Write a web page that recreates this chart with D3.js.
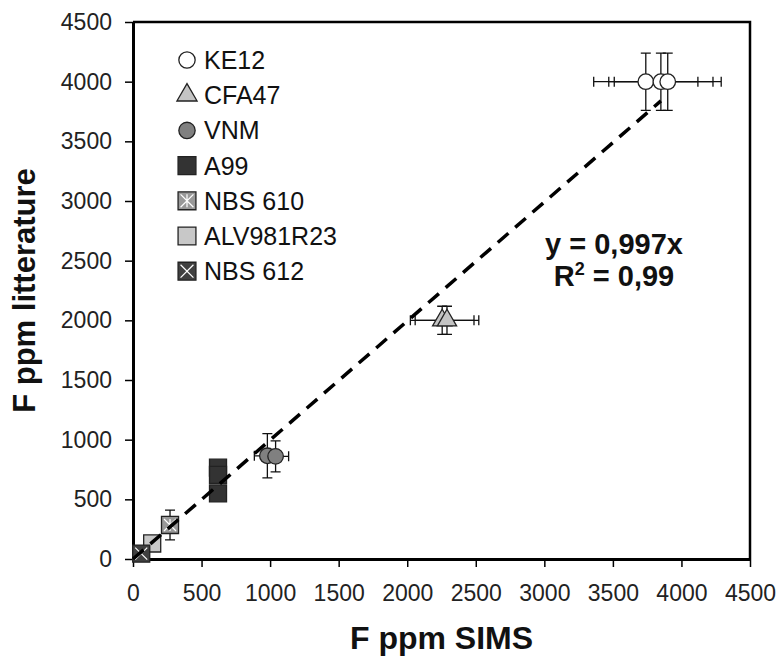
<!DOCTYPE html>
<html>
<head>
<meta charset="utf-8">
<script src="https://cdn.jsdelivr.net/npm/d3@7"></script>
<style>
  body { margin: 0; background: #fff; }
  text { font-family: "Liberation Sans", Arial, sans-serif; }
</style>
</head>
<body>
<script>
// series: x = F ppm SIMS, y = F ppm litterature
var ke12X = [3740, 3850, 3900];
var ke12Y = [4000, 4000, 4000];
var ke12Ex = [380, 380, 390];
var ke12Ey = [240, 240, 240];

var cfa47X = [2255, 2290];
var cfa47Y = [2000, 2000];
var cfa47Ex = [232, 232];
var cfa47Ey = [118, 118];

var vnmX = [980, 1040];
var vnmY = [865, 860];
var vnmEx = [95, 95];
var vnmEy = [185, 130];

var a99X = [620, 620, 620];
var a99Y = [765, 705, 550];

var nbs610X = [270];
var nbs610Y = [285];
var nbs610Ey = [125];

var alvX = [140];
var alvY = [130];

var nbs612X = [60];
var nbs612Y = [45];

var fitSlope = 0.997;
var fitEnd = 3850;

var ticks = [0, 500, 1000, 1500, 2000, 2500, 3000, 3500, 4000, 4500];
var legendNames = ["KE12", "CFA47", "VNM", "A99", "NBS 610", "ALV981R23", "NBS 612"];

var w = 777;
var h = 657;

var svg = d3.select("body")
    .append("svg")
    .attr("width", w)
    .attr("height", h);

var x = d3.scaleLinear().domain([0, 4500]).range([133, 750]);
var y = d3.scaleLinear().domain([0, 4500]).range([559, 22]);

// frame top / right
svg.append("path")
    .attr("d", "M" + x(0) + "," + y(4500) + "H" + x(4500) + "V" + y(0))
    .attr("fill", "none")
    .attr("stroke", "#000")
    .attr("stroke-width", 2.5);

var fmt = d3.format("d");
var xAxis = svg.append("g")
    .attr("transform", "translate(0," + y(0) + ")")
    .call(d3.axisBottom(x).tickValues(ticks).tickFormat(fmt).tickSize(8).tickSizeOuter(0).tickPadding(18));
var yAxis = svg.append("g")
    .attr("transform", "translate(" + x(0) + ",0)")
    .call(d3.axisLeft(y).tickValues(ticks).tickFormat(fmt).tickSize(8).tickSizeOuter(0).tickPadding(13));

[xAxis, yAxis].forEach(function(g) {
    g.select(".domain").attr("stroke-width", 3);
    g.selectAll(".tick line").attr("stroke-width", 1.5);
    g.selectAll(".tick text")
        .attr("fill", "#222")
        .style("font-family", "'Liberation Sans', Arial, sans-serif")
        .style("font-size", "23px");
});

svg.append("text")
    .attr("x", (x(0) + x(4500)) / 2)
    .attr("y", 649)
    .attr("text-anchor", "middle")
    .style("font-size", "32px")
    .style("font-weight", "bold")
    .attr("fill", "#111")
    .text("F ppm SIMS");

svg.append("text")
    .attr("transform", "translate(35," + (y(0) + y(4500)) / 2 + ") rotate(-90)")
    .attr("text-anchor", "middle")
    .style("font-size", "31px")
    .style("font-weight", "bold")
    .attr("fill", "#111")
    .text("F ppm litterature");

function zip(xs, ys, exs, eys) {
    return xs.map(function(v, i) {
        return { x: v, y: ys[i], ex: exs ? exs[i] : 0, ey: eys ? eys[i] : 0 };
    });
}

var series = [
    { name: "KE12", shape: d3.symbolCircle, size: 190, fill: "#fff", pts: zip(ke12X, ke12Y, ke12Ex, ke12Ey) },
    { name: "CFA47", shape: d3.symbolTriangle, size: 160, fill: "#c4c4c4", pts: zip(cfa47X, cfa47Y, cfa47Ex, cfa47Ey) },
    { name: "VNM", shape: d3.symbolCircle, size: 190, fill: "#808080", pts: zip(vnmX, vnmY, vnmEx, vnmEy) },
    { name: "A99", shape: d3.symbolSquare, size: 290, fill: "#333", pts: zip(a99X, a99Y) },
    { name: "NBS 610", shape: d3.symbolSquare, size: 290, fill: "#999", mark: "star", pts: zip(nbs610X, nbs610Y, null, nbs610Ey) },
    { name: "ALV981R23", shape: d3.symbolSquare, size: 290, fill: "#c8c8c8", pts: zip(alvX, alvY) },
    { name: "NBS 612", shape: d3.symbolSquare, size: 290, fill: "#404040", mark: "cross", pts: zip(nbs612X, nbs612Y) }
];

// error bars
var cap = 5;
var eb = svg.append("g").attr("stroke", "#111").attr("stroke-width", 1.3).attr("fill", "none");
series.forEach(function(s) {
    s.pts.forEach(function(p) {
        if (p.ey) {
            var cx = x(p.x), y0 = y(p.y - p.ey), y1 = y(p.y + p.ey);
            eb.append("path").attr("d",
                "M" + cx + "," + y0 + "V" + y1 +
                "M" + (cx - cap) + "," + y0 + "h" + 2 * cap +
                "M" + (cx - cap) + "," + y1 + "h" + 2 * cap);
        }
        if (p.ex) {
            var cy = y(p.y), x0 = x(p.x - p.ex), x1 = x(p.x + p.ex);
            eb.append("path").attr("d",
                "M" + x0 + "," + cy + "H" + x1 +
                "M" + x0 + "," + (cy - cap) + "v" + 2 * cap +
                "M" + x1 + "," + (cy - cap) + "v" + 2 * cap);
        }
    });
});

function drawMarker(g, s, scale) {
    g.append("path")
        .attr("d", d3.symbol().type(s.shape).size(s.size * scale)())
        .attr("fill", s.fill)
        .attr("stroke", "#222")
        .attr("stroke-width", 1.3);
    var r = Math.sqrt(s.size * scale) / 2 - 2.5;
    if (s.mark) {
        var d = "M" + (-r) + "," + (-r) + "L" + r + "," + r + "M" + r + "," + (-r) + "L" + (-r) + "," + r;
        if (s.mark == "star") d += "M0," + (-r) + "V" + r;
        g.append("path").attr("d", d).attr("stroke", "#fff").attr("stroke-width", 1.2);
    }
}

// markers
series.forEach(function(s) {
    s.pts.forEach(function(p) {
        var g = svg.append("g").attr("transform", "translate(" + x(p.x) + "," + y(p.y) + ")");
        drawMarker(g, s, 1);
    });
});

// fit line
svg.append("line")
    .attr("x1", x(0)).attr("y1", y(0))
    .attr("x2", x(fitEnd)).attr("y2", y(fitEnd * fitSlope))
    .attr("stroke", "#000")
    .attr("stroke-width", 3.5)
    .attr("stroke-dasharray", "14,9");

// equation
svg.append("text")
    .attr("x", 614).attr("y", 254)
    .attr("text-anchor", "middle")
    .style("font-size", "29px").style("font-weight", "bold")
    .attr("fill", "#111")
    .text("y = 0,997x");
var r2 = svg.append("text")
    .attr("x", 614).attr("y", 286)
    .attr("text-anchor", "middle")
    .style("font-size", "29px").style("font-weight", "bold")
    .attr("fill", "#111");
r2.append("tspan").text("R");
r2.append("tspan").attr("dy", -11).style("font-size", "18px").text("2");
r2.append("tspan").attr("dy", 11).text(" = 0,99");

// legend
var legend = svg.append("g");
legendNames.forEach(function(name, i) {
    var s = series.filter(function(d) { return d.name == name; })[0];
    var ly = 60 + i * 35.2;
    var g = legend.append("g").attr("transform", "translate(187," + ly + ")");
    drawMarker(g, s, 1.1);
    legend.append("text")
        .attr("x", 204).attr("y", ly + 9)
        .style("font-size", "25px")
        .attr("fill", "#111")
        .text(name);
});
</script>
</body>
</html>
